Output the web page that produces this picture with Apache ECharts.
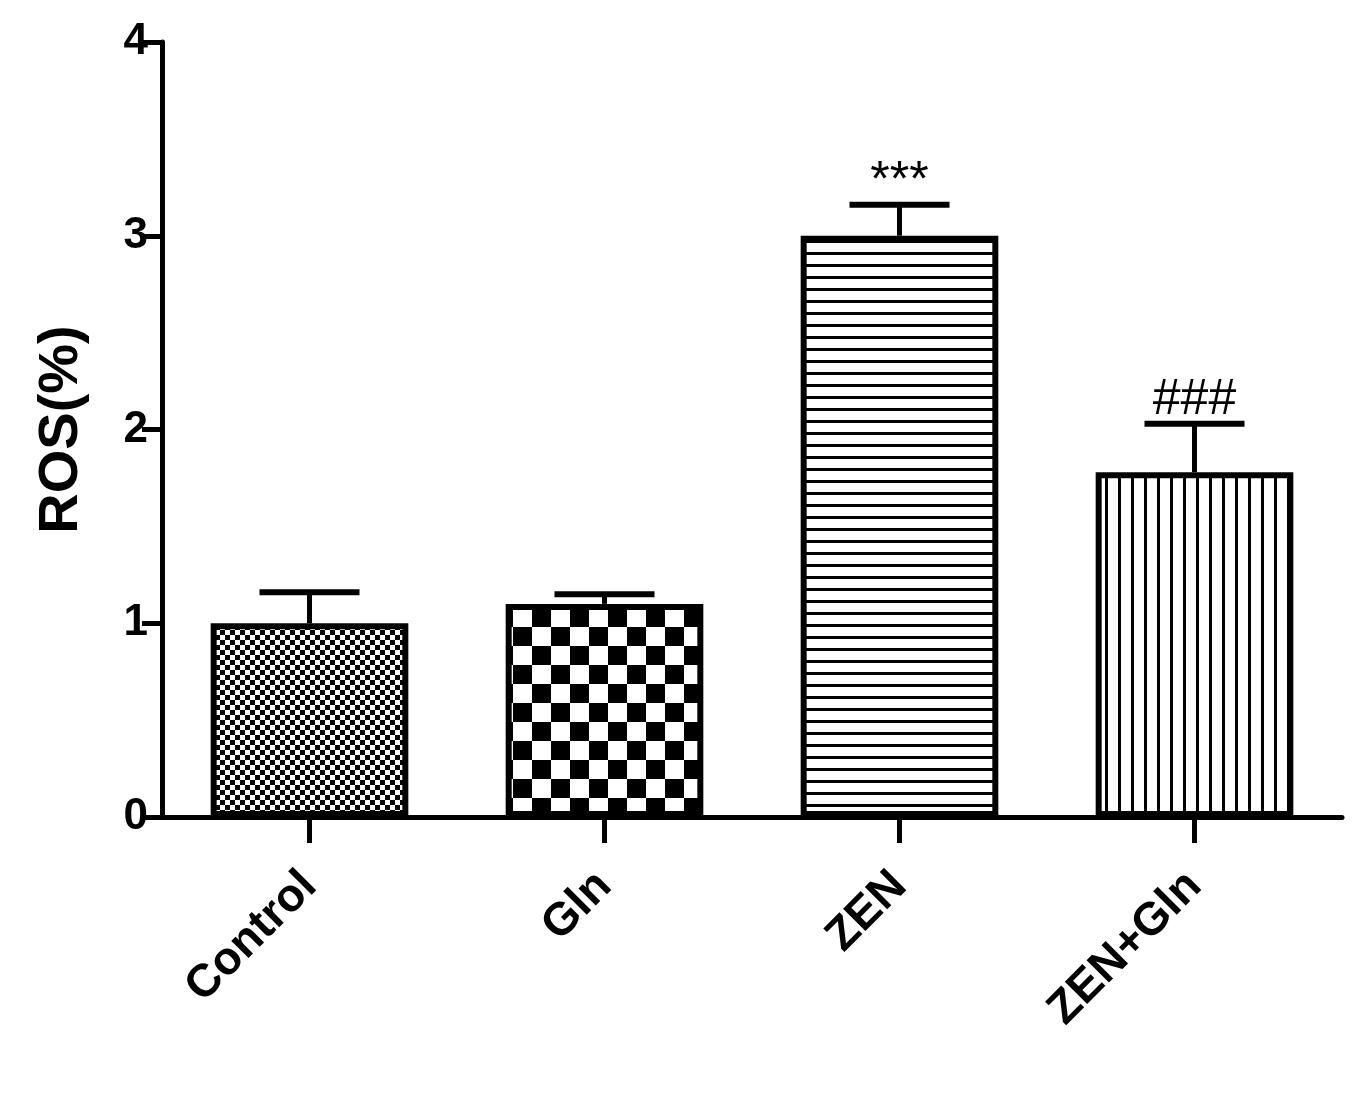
<!DOCTYPE html>
<html>
<head>
<meta charset="utf-8">
<script src="https://cdn.jsdelivr.net/npm/echarts@6/dist/echarts.min.js"></script>
<style>html,body{margin:0;background:#fff}#chart{width:1364px;height:1105px}</style>
</head>
<body>
<div id="chart"></div>
<script>
// data
const categories = ['Control', 'Gln', 'ZEN', 'ZEN+Gln'];
const values = [1.0, 1.1, 3.0, 1.78];
const errors = [0.16, 0.05, 0.16, 0.25];
const marks = ['', '', '***', '###'];
const yTicks = [0, 1, 2, 3, 4];

// fill patterns like the original
function pattern(kind) {
    const c = document.createElement('canvas');
    const x = c.getContext('2d');
    if (kind === 'fine') {
        c.width = c.height = 10;
        x.fillStyle = '#fff'; x.fillRect(0, 0, 10, 10);
        x.fillStyle = '#000'; x.fillRect(0, 0, 5, 5); x.fillRect(5, 5, 5, 5);
    } else if (kind === 'coarse') {
        c.width = c.height = 38;
        x.fillStyle = '#fff'; x.fillRect(0, 0, 38, 38);
        x.fillStyle = '#000'; x.fillRect(0, 0, 19, 19); x.fillRect(19, 19, 19, 19);
    } else if (kind === 'hlines') {
        c.width = 10; c.height = 12.5;
        x.fillStyle = '#fff'; x.fillRect(0, 0, 10, 13);
        x.fillStyle = '#000'; x.fillRect(0, 0, 10, 3);
    } else {
        c.width = 13; c.height = 10;
        x.fillStyle = '#fff'; x.fillRect(0, 0, 13, 10);
        x.fillStyle = '#000'; x.fillRect(0, 0, 3, 10);
    }
    return { image: c, repeat: 'repeat' };
}
const fills = [pattern('fine'), pattern('coarse'), pattern('hlines'), pattern('vlines')];

const font = '"Liberation Sans", Arial, sans-serif';
const chart = echarts.init(document.getElementById('chart'));
chart.setOption({
    animation: false,
    grid: { left: 162, right: 22, top: 42, bottom: 288 },
    xAxis: {
        type: 'category',
        data: categories,
        axisLine: { lineStyle: { color: '#000', width: 5 } },
        axisTick: { show: true, interval: 0, alignWithLabel: true, length: 26, lineStyle: { color: '#000', width: 5 } },
        axisLabel: { interval: 0, rotate: 45, margin: 62, color: '#000', fontSize: 46, fontWeight: 'bold', fontFamily: font }
    },
    yAxis: {
        type: 'value', min: 0, max: 4, interval: 1,
        name: 'ROS(%)', nameLocation: 'middle', nameGap: 72, nameRotate: 90,
        nameTextStyle: { color: '#000', fontSize: 56, fontWeight: 'bold', fontFamily: font },
        axisLine: { show: true, lineStyle: { color: '#000', width: 5 } },
        axisTick: { show: true, length: 20, lineStyle: { color: '#000', width: 5 } },
        axisLabel: { color: '#000', fontSize: 44, fontWeight: 'bold', fontFamily: font, margin: 14,
            formatter: v => yTicks.includes(v) ? String(v) : '' },
        splitLine: { show: false }
    },
    series: [
        {
            type: 'bar', barWidth: '67%', z: 2,
            data: values.map((v, i) => ({ value: v, itemStyle: { color: fills[i] } })),
            itemStyle: { borderColor: '#000', borderWidth: 6 }
        },
        {
            type: 'custom', z: 3,
            data: values.map((v, i) => [i, v, v + errors[i]]),
            renderItem: function (params, api) {
                const base = api.coord([api.value(0), api.value(1)]);
                const top = api.coord([api.value(0), api.value(2)]);
                const half = 50;
                const kids = [
                    { type: 'line', shape: { x1: base[0], y1: base[1], x2: top[0], y2: top[1] }, style: { stroke: '#000', lineWidth: 5 } },
                    { type: 'line', shape: { x1: top[0] - half, y1: top[1], x2: top[0] + half, y2: top[1] }, style: { stroke: '#000', lineWidth: 6 } }
                ];
                const m = marks[params.dataIndex];
                if (m) kids.push({ type: 'text', style: { text: m, x: top[0], y: top[1] + 2, align: 'center', verticalAlign: 'bottom', fill: '#000', fontSize: 50, fontFamily: font } });
                return { type: 'group', children: kids };
            }
        }
    ]
});
</script>
</body>
</html>
